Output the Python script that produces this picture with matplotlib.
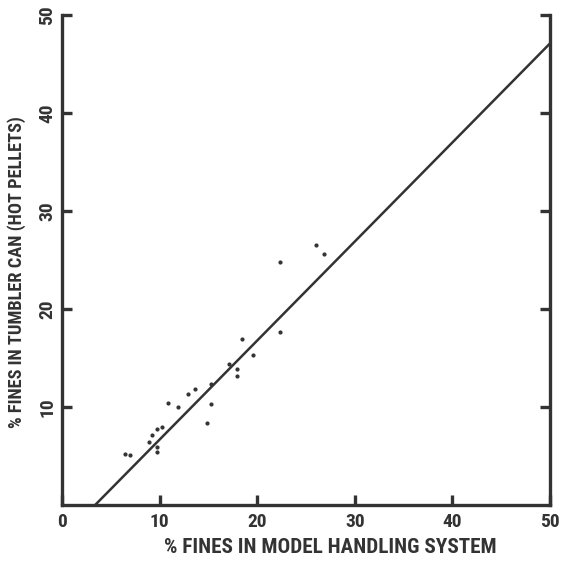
"""
Fines in tumbler can vs. fines in model handling system.
"""
import matplotlib
matplotlib.use("Agg")
import matplotlib.pyplot as plt
from matplotlib import font_manager

# measured points (% fines model handling, % fines tumbler can)
model_fines = [6.5, 7.0, 8.9, 9.2, 9.7, 9.7, 9.7, 10.3, 10.9, 11.9, 12.9, 13.6,
               14.9, 15.3, 15.3, 17.1, 17.9, 17.9, 18.4, 19.6, 22.3, 22.3, 26.0, 26.8]
tumbler_fines = [5.2, 5.1, 6.4, 7.1, 7.8, 5.9, 5.4, 8.0, 10.4, 10.0, 11.3, 11.8,
                 8.4, 10.3, 12.3, 14.4, 13.9, 13.2, 16.9, 15.3, 24.8, 17.7, 26.5, 25.6]

# fitted line endpoints
fit_x = [3.4, 50.0]
fit_y = [0.0, 47.1]

x_ticks = [0, 10, 20, 30, 40, 50]
y_ticks = [10, 20, 30, 40, 50]

names = {f.name for f in font_manager.fontManager.ttflist}
family = [n for n in ['DejaVu Sans Condensed', 'Liberation Sans Narrow', 'Roboto Condensed']
          if n in names] + ['DejaVu Sans']
plt.rcParams['font.family'] = family
plt.rcParams['font.stretch'] = 'condensed'
ink = '#333333'

fig = plt.figure(figsize=(5.63, 5.62), dpi=100)
ax = fig.add_axes([0.110, 0.1014, 0.867, 0.872])

ax.plot(fit_x, fit_y, color=ink, linewidth=1.8, solid_capstyle='butt')
ax.scatter(model_fines, tumbler_fines, s=4, color=ink, zorder=3)

ax.set_xlim(0, 50)
ax.set_ylim(0, 50)
ax.set_xticks(x_ticks)
ax.set_yticks(y_ticks)
ax.set_xticklabels([str(t) for t in x_ticks], fontsize=14, fontweight='bold', color=ink)
ax.set_yticklabels([str(t) for t in y_ticks], fontsize=14, fontweight='bold', color=ink,
                   rotation=90, va='center')

for side in ['left', 'right', 'bottom']:
    ax.spines[side].set_linewidth(2.4)
    ax.spines[side].set_color(ink)
ax.spines['top'].set_visible(False)

ax.tick_params(axis='both', direction='in', length=7, width=2.4, color=ink)
ax.tick_params(axis='y', right=True, labelright=False, pad=4)
ax.tick_params(axis='x', top=False, pad=6)

ax.set_xlabel('% FINES IN MODEL HANDLING SYSTEM', fontsize=15.2, fontweight='bold',
              color=ink)
ax.set_ylabel('% FINES IN TUMBLER CAN (HOT PELLETS)', fontsize=13.2, fontweight='bold',
              color=ink)
ax.xaxis.set_label_coords(0.549, -0.068)
ax.yaxis.set_label_coords(-0.074, 0.475)

fig.savefig('out.png', dpi=100)
plt.close(fig)
